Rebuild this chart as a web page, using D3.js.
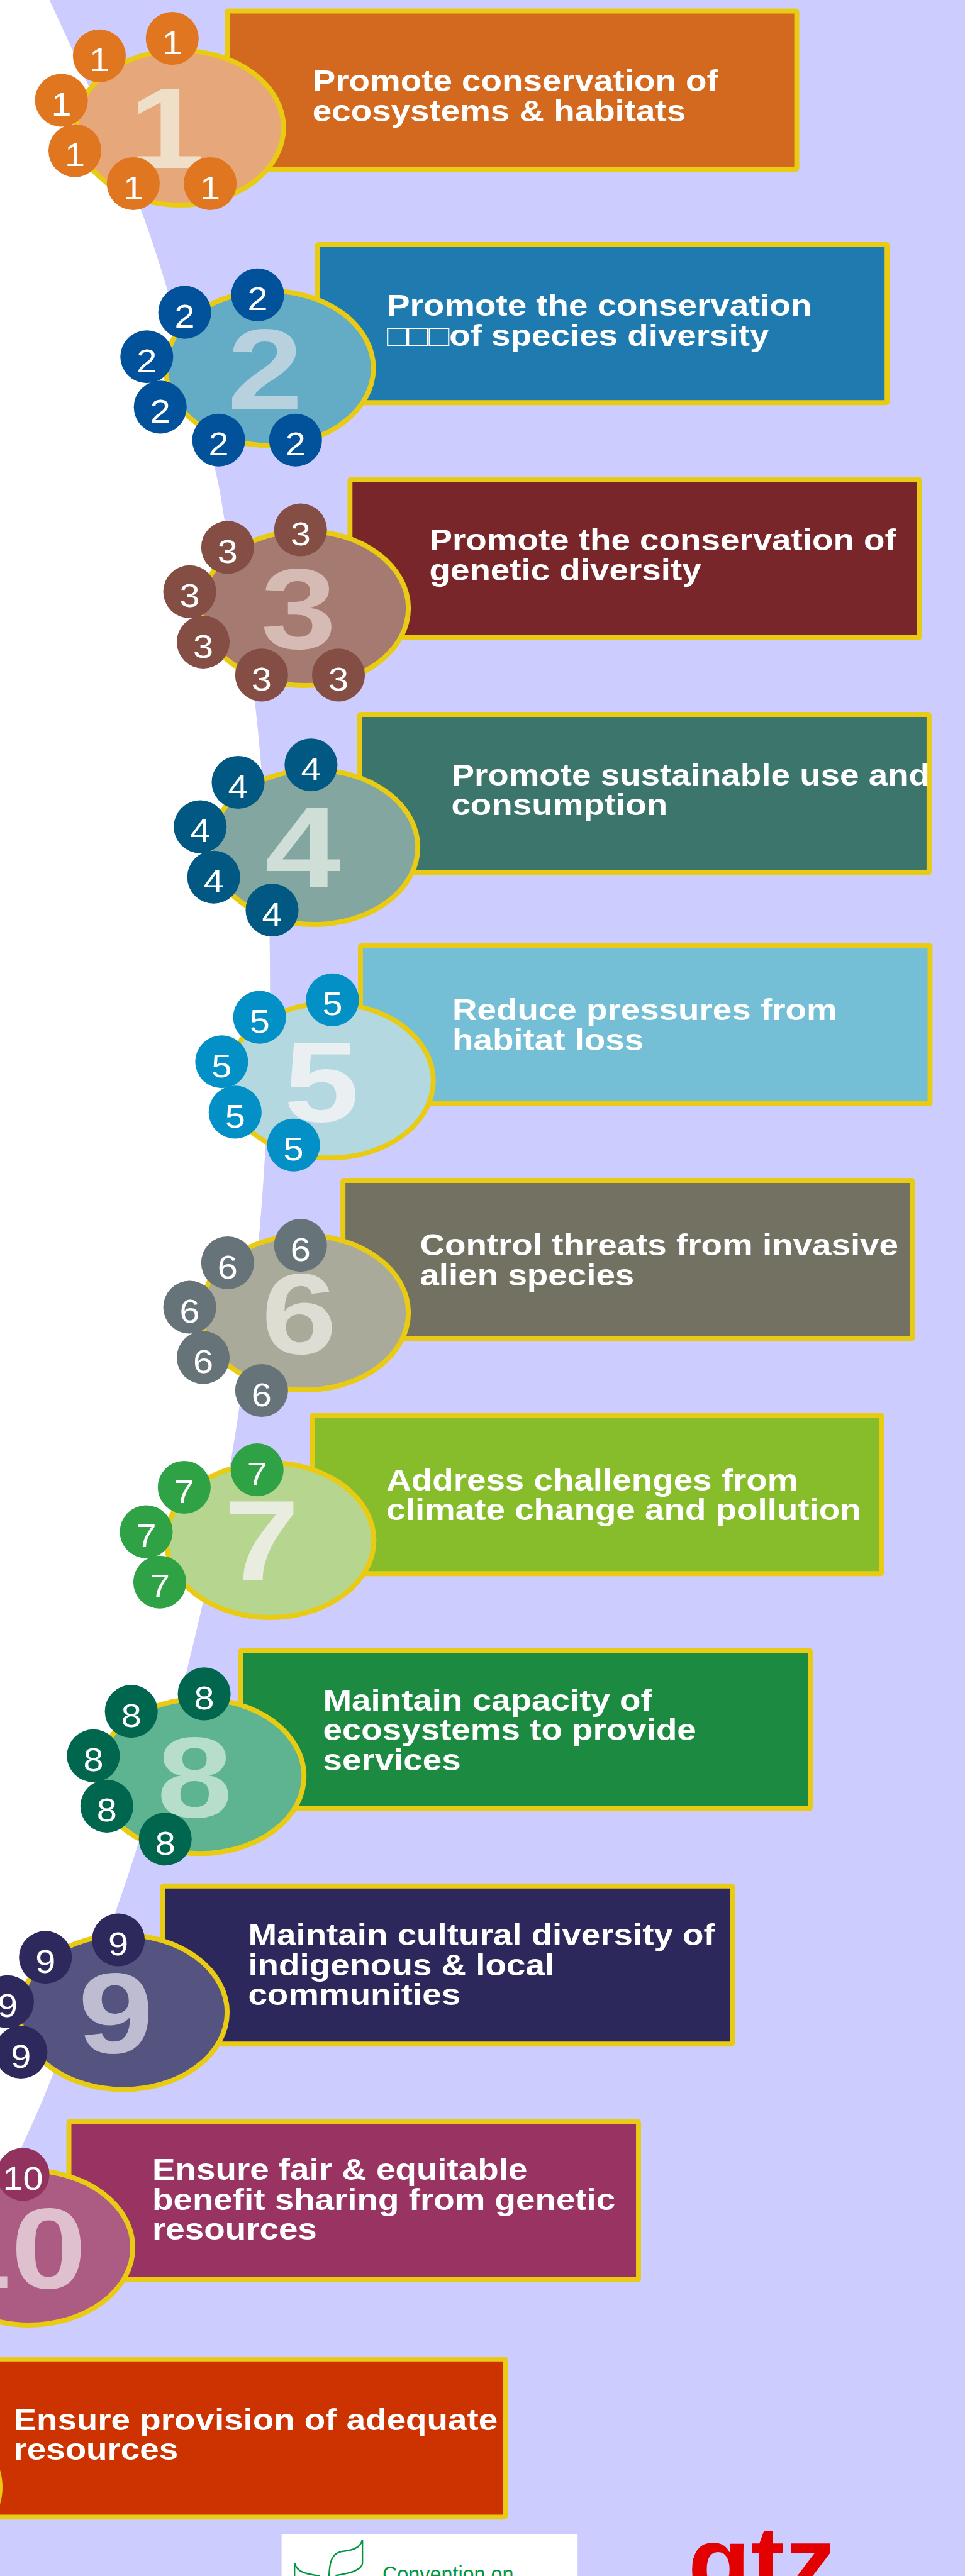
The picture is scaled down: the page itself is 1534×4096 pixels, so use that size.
<!DOCTYPE html>
<html>
<head>
<meta charset="utf-8">
<title>Strategic goals</title>
<style>
  body { margin: 0; background: #ccccff; }
  svg { display: block; }
</style>
</head>
<body>
<svg id="chart"></svg>
<script src="https://d3js.org/d3.v7.min.js"></script>
<script>
// reference is 1933 x 5163, drawn into a 1534 x 4096 window through the viewBox
const W = 1933, H = 5163;

const numbers = ["1","2","3","4","5","6","7","8","9","10","11"];
const labels = [
  ["Promote conservation of", "ecosystems & habitats"],
  ["Promote the conservation", "\u25A1\u25A1\u25A1of species diversity"],
  ["Promote the conservation of", "genetic diversity"],
  ["Promote sustainable use and", "consumption"],
  ["Reduce pressures from", "habitat loss"],
  ["Control threats from invasive", "alien species"],
  ["Address challenges from", "climate change and pollution"],
  ["Maintain capacity of", "ecosystems to provide", "services"],
  ["Maintain cultural diversity of", "indigenous & local", "communities"],
  ["Ensure fair & equitable", "benefit sharing from genetic", "resources"],
  ["Ensure provision of adequate", "resources"]
];
const boxX = [450, 631, 696, 715, 717, 682, 620, 477, 321, 133, -134];
const boxY = [17, 485, 956, 1427, 1890, 2361, 2832, 3303, 3775, 4247, 4723];
const textX = [626, 775, 860, 904, 906, 841, 774, 647, 497, 305, 27];
const textY = [183, 633, 1103, 1574, 2045, 2516, 2987, 3428, 3899, 4369, 4870];
const ellX = [360, 540, 610, 629, 660, 610, 541, 401, 247, 58, -208];
const ellY = [256, 738, 1219, 1698, 2166, 2631, 3087, 3560, 4033, 4505, 4985];
const numDx = [-26, -9, -12, -22, -16, -11, -17, -11, -15, -36, -14];
const dotX = [345, 516, 602, 623, 666, 602, 515, 409, 237, 46, 0];
const dotY = [77, 591, 1062, 1533, 2004, 2496, 2946, 3395, 3888, 4358, 0];
const dotCount = [6, 6, 6, 5, 5, 5, 4, 5, 4, 1, 0];
const dotDX = [0, -146, -222, -195, -78, 76];
const dotDY = [0, 35, 124, 225, 291, 291];

const boxFill = ["#d2691f", "#1f7baf", "#78262a", "#3c756b", "#74bed6", "#727162",
                 "#87bc2a", "#1c8a40", "#2c285c", "#983362", "#cc3300"];
const ellFill = ["#e6a77a", "#64abc5", "#a57a70", "#83a7a0", "#b4d8e0", "#aaaa9a",
                 "#b6d58f", "#5eb490", "#555480", "#ac5b82", "#e38a66"];
const dotFill = ["#e17620", "#02529b", "#854e44", "#015882", "#0390c7", "#667379",
                 "#2ea245", "#00664e", "#2d295d", "#91325f", "#cc3300"];
const numFill = ["#f0dfc8", "#b7d2de", "#d6bbb4", "#cfded6", "#eaf0f2", "#deddd4",
                 "#e8ede0", "#b6deca", "#bebcd0", "#dec0cf", "#f2c8b0"];

// left white edge of the background
const edgeX = [99, 293, 433, 450, 512, 540, 528, 475, 386, 256, 89, 43, 0];
const edgeY = [0, 450, 950, 1043, 1420, 1880, 2360, 2850, 3300, 3760, 4200, 4304, 4400];

const yellow = "#e9cb13";
const font = "'Liberation Sans', Arial, sans-serif";

const svg = d3.select('#chart')
  .attr('width', 1534)
  .attr('height', 4096)
  .attr('viewBox', `0 0 ${W} ${H}`)
  .attr('preserveAspectRatio', 'none');

svg.append('rect')
  .attr('width', W).attr('height', H)
  .attr('fill', '#ccccff');

const edge = d3.line().curve(d3.curveCatmullRom);
const pts = edgeX.map((x, i) => [x, edgeY[i]]);
svg.append('path')
  .attr('d', edge(pts) + ` L0,${edgeY[edgeY.length - 1]} L0,0 Z`)
  .attr('fill', '#ffffff');

const items = numbers.map((n, i) => ({
  n: n, lines: labels[i], i: i
}));

const g = svg.selectAll('g.item')
  .data(items)
  .join('g')
  .attr('class', 'item');

g.append('rect')
  .attr('x', d => boxX[d.i] + 5)
  .attr('y', d => boxY[d.i] + 5)
  .attr('width', 1141)
  .attr('height', 317)
  .attr('rx', 2)
  .attr('fill', d => boxFill[d.i])
  .attr('stroke', yellow)
  .attr('stroke-width', 10);

g.each(function(d) {
  d3.select(this).selectAll('text.label')
    .data(d.lines)
    .join('text')
    .attr('class', 'label')
    .attr('transform', (t, k) => `translate(${textX[d.i]},${textY[d.i] + k * 60}) scale(1.15,1)`)
    .attr('font-family', font)
    .attr('font-weight', 'bold')
    .attr('font-size', 60)
    .attr('fill', '#ffffff')
    .text(t => t);
});

g.append('ellipse')
  .attr('cx', d => ellX[d.i])
  .attr('cy', d => ellY[d.i])
  .attr('rx', 208)
  .attr('ry', 155)
  .attr('fill', d => ellFill[d.i])
  .attr('stroke', yellow)
  .attr('stroke-width', 10);

g.append('text')
  .attr('transform', d => `translate(${ellX[d.i] + numDx[d.i]},${ellY[d.i] + 81}) scale(1.18,1)`)
  .attr('text-anchor', 'middle')
  .attr('font-family', font)
  .attr('font-weight', 'bold')
  .attr('font-size', 230)
  .attr('fill', d => numFill[d.i])
  .text(d => d.n);

g.each(function(d) {
  const dots = d3.range(dotCount[d.i]).map(k => ({
    x: dotX[d.i] + dotDX[k], y: dotY[d.i] + dotDY[k], n: d.n, c: dotFill[d.i]
  }));
  const dg = d3.select(this).selectAll('g.dot')
    .data(dots)
    .join('g')
    .attr('class', 'dot')
    .attr('transform', p => `translate(${p.x},${p.y})`);
  dg.append('circle')
    .attr('r', 53)
    .attr('fill', p => p.c);
  dg.append('text')
    .attr('transform', 'translate(0,31) scale(1.1,1)')
    .attr('text-anchor', 'middle')
    .attr('font-family', font)
    .attr('font-size', 66)
    .attr('fill', '#ffffff')
    .text(p => p.n);
});

// logos at the foot
svg.append('rect')
  .attr('x', 564).attr('y', 5079)
  .attr('width', 593).attr('height', 100)
  .attr('fill', '#ffffff');

const leaf = svg.append('g')
  .attr('fill', 'none')
  .attr('stroke', '#009640')
  .attr('stroke-width', 3);
leaf.append('path')
  .attr('d', 'M726,5090 L726,5138 C724,5152 700,5158 672,5162 M726,5090 C722,5110 700,5112 684,5114 C664,5118 660,5135 659,5165');
leaf.append('path')
  .attr('d', 'M590,5137 L590,5165 M590,5137 C594,5152 604,5158 641,5163');

svg.append('text')
  .attr('x', 766).attr('y', 5174)
  .attr('font-family', font)
  .attr('font-size', 44)
  .attr('textLength', 263)
  .attr('lengthAdjust', 'spacingAndGlyphs')
  .attr('fill', '#009640')
  .text('Convention on');

svg.append('text')
  .attr('x', 1378).attr('y', 5205)
  .attr('font-family', font)
  .attr('font-weight', 'bold')
  .attr('font-size', 200)
  .attr('textLength', 297)
  .attr('lengthAdjust', 'spacingAndGlyphs')
  .attr('fill', '#e30000')
  .text('gtz');
</script>
</body>
</html>
